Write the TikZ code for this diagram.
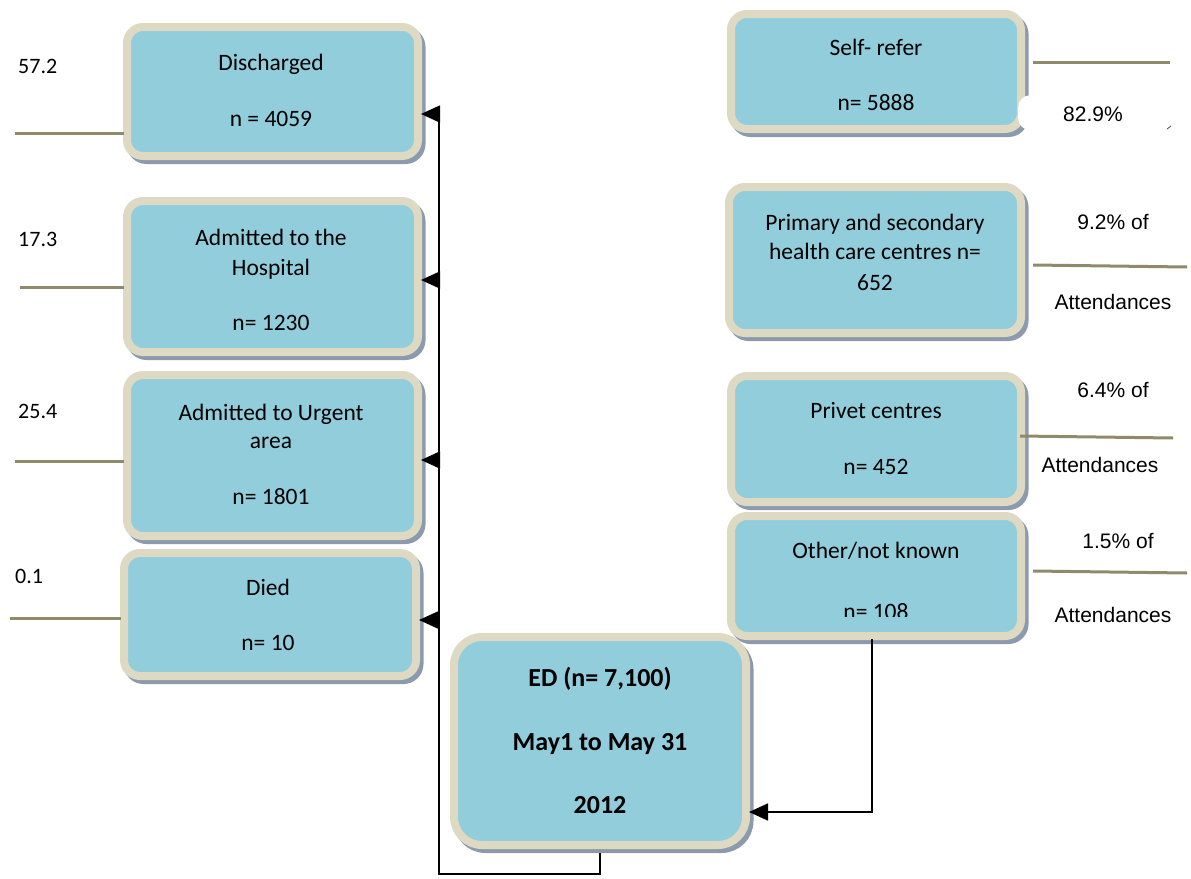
\documentclass[tikz,border=0pt]{standalone}
\usepackage{fontspec}
\setmainfont{Carlito}
\newfontfamily\arialfont{Liberation Sans}
\usetikzlibrary{arrows.meta,shadows,backgrounds}
\definecolor{boxfill}{HTML}{92CDDC}
\definecolor{boxrim}{HTML}{DDD9C3}
\definecolor{boxshade}{HTML}{8C9AAD}
\definecolor{leader}{HTML}{8F8A6C}
\begin{document}
\begin{tikzpicture}[x=1pt,y=-1pt,
  box/.style={draw=boxrim, line width=8pt, fill=boxfill, rounded corners=16pt,
    outer sep=3pt, inner sep=0pt,
    drop shadow={shadow xshift=3.5pt, shadow yshift=-4pt, fill=boxshade,
      draw=boxshade, line width=8pt, opacity=1}},
  lab/.style={anchor=base, inner sep=0pt, font=\fontsize{23.5}{28}\selectfont},
  boldlab/.style={anchor=base, inner sep=0pt, font=\fontsize{26}{30}\selectfont\bfseries},
  pct/.style={anchor=base, inner sep=0pt, font=\arialfont\fontsize{21}{25}\selectfont},
  num/.style={anchor=base west, inner sep=0pt, font=\fontsize{22}{26}\selectfont},
  leaderline/.style={draw=leader, line width=3pt},
  conn/.style={line width=1.6pt, black},
  arr/.style={conn, -{Triangle[length=19pt,width=17pt]}}]
\useasboundingbox (0,0) rectangle (1191,878);

% ---- outcome boxes (left column)
\node[box, minimum width=291pt, minimum height=129pt] (dis) at (272.5,91.5) {};
\node[box, minimum width=291pt, minimum height=151pt] (hos) at (272.5,276.5) {};
\node[box, minimum width=291pt, minimum height=161pt] (urg) at (272.5,455.5) {};
\node[box, minimum width=292pt, minimum height=123pt] (die) at (270,614.5) {};

% ---- source boxes (right column)
\node[box, minimum width=290pt, minimum height=115pt] (self) at (876,71.5) {};
\node[box, minimum width=292pt, minimum height=146pt] (prim) at (875,260) {};
\node[box, minimum width=290pt, minimum height=126pt] (priv) at (876,439) {};
\node[box, minimum width=290pt, minimum height=120pt] (oth) at (876,576) {};

% ---- central ED box
\node[box, rounded corners=28pt, minimum width=292pt, minimum height=208pt] (ed) at (600,741) {};

% ---- box texts
\node[lab] (dis1) at (271,70) {Discharged};
\node[lab] (dis2) at (271,126) {n = 4059};
\node[lab] (hos1) at (271,245) {Admitted to the};
\node[lab] (hos2) at (271,275) {Hospital};
\node[lab] (hos3) at (271,330) {n= 1230};
\node[lab] (urg1) at (271,420) {Admitted to Urgent};
\node[lab] (urg2) at (271,448) {area};
\node[lab] (urg3) at (271,504) {n= 1801};
\node[lab] (die1) at (268,595) {Died};
\node[lab] (die2) at (268,650) {n= 10};

\node[lab] (self1) at (876,55) {Self- refer};
\node[lab] (self2) at (876,110) {n= 5888};
\node[lab] (prim1) at (875,230) {Primary and secondary};
\node[lab] (prim2) at (875,259) {health care centres n=};
\node[lab] (prim3) at (875,290) {652};
\node[lab] (priv1) at (876,418) {Privet centres};
\node[lab] (priv2) at (876,474) {n= 452};
\node[lab] (oth1) at (876,558) {Other/not known};
\begin{scope}
  \clip (700,560) rectangle (1050,616.5);
  \node[lab] (oth2) at (876,619) {n= 108};
\end{scope}

\node[boldlab] (ed1) at (600,686) {ED (n= 7,100)};
\node[boldlab] (ed2) at (600,750) {May1 to May 31};
\node[boldlab] (ed3) at (600,813) {2012};

% ---- percentages of outcomes (left)
\node[num] (n1) at (18,73) {57.2};
\node[num] (n2) at (18,246) {17.3};
\node[num] (n3) at (18,418) {25.4};
\node[num] (n4) at (15,583) {0.1};
\coordinate (l1) at (15,133);
\coordinate (l2) at (20,287);
\coordinate (l3) at (15,461);
\coordinate (l4) at (10,618);
\draw[leaderline] (l1) -- (l1 -| dis.west);
\draw[leaderline] (l2) -- (l2 -| hos.west);
\draw[leaderline] (l3) -- (l3 -| urg.west);
\draw[leaderline] (l4) -- (l4 -| die.west);

% ---- percentages of attendances (right)
\node[fill=white, rounded corners=12pt, minimum width=154pt, minimum height=35pt,
  anchor=north west, inner sep=0pt] (selfpatch) at (1018,95) {};
\node[pct] (p1) at (1093,121) {82.9\%};
\draw[line width=0.8pt, black!70] (1167,129) -- (1171,126);
\node[pct] (p2) at (1113,229) {9.2\% of};
\node[pct] (p2b) at (1113,309) {Attendances};
\node[pct] (p3) at (1113,397) {6.4\% of};
\node[pct] (p3b) at (1100,472) {Attendances};
\node[pct] (p4) at (1118,548) {1.5\% of};
\node[pct] (p4b) at (1113,622) {Attendances};
\coordinate (r1a) at (1033,62);   \coordinate (r1b) at (1170,62);
\coordinate (r2a) at (1033,265);  \coordinate (r2b) at (1187,267);
\coordinate (r3a) at (1020,436);  \coordinate (r3b) at (1173,438);
\coordinate (r4a) at (1033,571);  \coordinate (r4b) at (1187,573);
\draw[leaderline] (r1a) -- (r1b);
\draw[leaderline] (r2a) -- (r2b);
\draw[leaderline] (r3a) -- (r3b);
\draw[leaderline] (r4a) -- (r4b);

% ---- connectors
\coordinate (busbot) at (439,874);
\coordinate (bus0) at (439,112);
\coordinate (bus1) at (439,114);
\coordinate (bus2) at (439,280);
\coordinate (bus3) at (439,460);
\coordinate (bus4) at (439,620);
\begin{pgfonlayer}{background}
  \draw[conn] (ed.south) |- (busbot) -- (bus0);
\end{pgfonlayer}
\draw[arr] (bus1) -- (bus1 -| dis.east);
\draw[arr] (bus2) -- (bus2 -| hos.east);
\draw[arr] (bus3) -- (bus3 -| urg.east);
\draw[arr] (bus4) -- (bus4 -| die.east);

\coordinate (rbend) at (872,812);
\draw[arr] (oth.south -| rbend) -- (rbend) -- (rbend -| ed.east);
\end{tikzpicture}
\end{document}
